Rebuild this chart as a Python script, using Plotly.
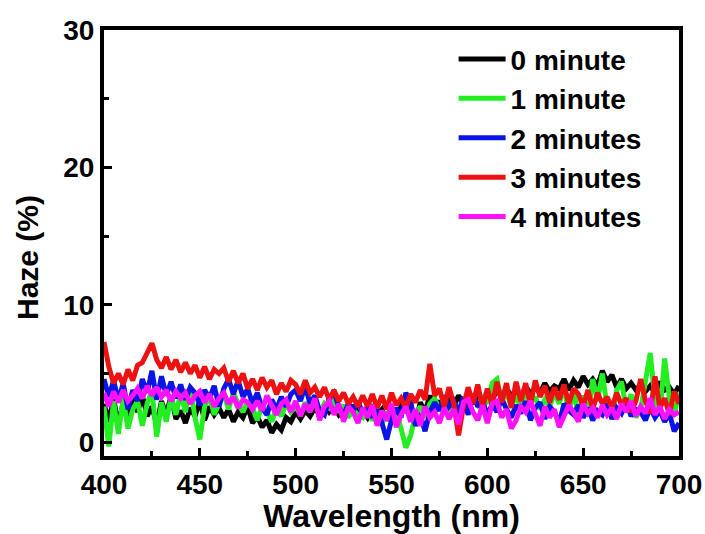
import numpy as np
import plotly.graph_objects as go

# Wavelength grid (nm), 2.5 nm step
wavelength = np.arange(400, 700.1, 2.5)

haze_0min = [2.8, 1.5, 3.2, 1.2, 2.9, 1.8, 3.6, 2.2, 3.4, 1.9, 2.6, 1.3, 3.0, 2.0, 3.4, 1.7, 2.3, 1.4, 2.5, 1.9,
             3.0, 1.6, 2.6, 2.0, 2.5, 1.8, 2.4, 1.5, 2.2, 1.8, 2.6, 1.4, 1.9, 1.1, 1.6, 0.7, 1.3, 0.9, 1.8, 1.5,
             2.2, 1.7, 2.3, 1.9, 2.5, 2.0, 2.7, 2.2, 2.6, 2.0, 2.4, 1.9, 2.7, 2.1, 2.3, 1.8, 2.5, 2.0, 2.4, 1.6,
             2.2, 1.8, 2.6, 2.3, 2.8, 1.4, 2.9, 2.2, 3.4, 2.5, 3.0, 2.1, 3.2, 2.6, 3.4, 2.8, 3.0, 2.9, 3.4, 3.0,
             3.6, 3.1, 3.8, 3.3, 3.9, 3.4, 3.7, 3.2, 4.1, 3.5, 4.0, 3.6, 4.3, 3.7, 4.1, 3.9, 4.6, 3.8, 4.5, 4.0,
             4.8, 4.2, 4.6, 4.1, 5.2, 4.4, 4.9, 4.0, 4.6, 3.9, 4.3, 3.8, 4.2, 3.7, 4.1, 3.6, 4.4, 3.8, 4.0, 3.5,
             4.1]

haze_1min = [2.6, -0.3, 3.0, 0.6, 3.2, 1.0, 2.4, 3.0, 1.2, 2.8, 3.8, 0.4, 2.9, 1.5, 3.3, 2.0, 3.6, 2.2, 4.0, 1.8,
             0.2, 2.6, 3.4, 2.0, 2.8, 3.5, 2.4, 3.6, 2.8, 2.2, 3.0, 2.5, 1.6, 2.7, 2.2, 1.5, 2.5, 1.9, 2.8, 2.2,
             2.6, 2.0, 2.9, 2.3, 3.0, 2.1, 2.8, 2.5, 3.1, 2.2, 2.7, 1.8, 2.4, 2.0, 1.8, 2.4, 1.6, 2.1, 1.4, 2.0,
             1.5, 2.2, 1.0, -0.4, 0.5, 2.0, 2.6, 1.8, 2.8, 3.2, 2.4, 3.0, 2.2, 2.8, 2.5, 3.0, 2.4, 3.2, 2.7, 3.4,
             2.8, 4.3, 4.6, 3.0, 3.6, 2.6, 3.4, 2.5, 3.8, 2.8, 3.3, 2.4, 3.1, 2.6, 3.6, 2.8, 4.0, 2.2, 3.7, 2.0,
             3.4, 1.9, 4.6, 3.0, 5.0, 2.6, 1.8, 3.8, 4.4, 2.4, 3.5, 1.8, 2.4, 4.5, 6.5, 3.0, 2.0, 6.1, 3.2, 2.0,
             3.6]

haze_2min = [4.6, 3.3, 4.5, 3.0, 4.3, 2.4, 3.8, 3.0, 4.6, 3.6, 5.2, 3.1, 4.8, 3.4, 4.4, 3.2, 4.2, 3.1, 4.0, 3.6,
             2.7, 3.8, 3.2, 4.1, 2.6, 3.9, 4.6, 3.5, 4.5, 3.3, 3.9, 2.8, 3.6, 2.5, 2.0, 3.1, 2.4, 3.3, 2.6, 3.5,
             3.8, 3.0, 4.1, 2.8, 3.4, 2.3, 2.0, 3.2, 3.6, 2.6, 2.0, 2.8, 2.3, 3.0, 2.1, 2.6, 1.8, 2.4, 1.4, 0.2,
             1.6, 2.5, 1.8, 3.6, 2.9, 1.2, 2.0, 0.8, 2.2, 2.9, 2.3, 3.4, 2.6, 3.0, 2.1, 3.3, 2.0, 3.5, 2.6, 3.1,
             1.9, 2.8, 2.2, 3.2, 2.4, 1.8, 2.7, 2.1, 3.0, 1.6, 2.5, 2.9, 1.7, 2.6, 2.2, 1.4, 2.8, 2.3, 2.0, 2.7,
             1.8, 2.5, 1.6, 2.3, 2.0, 2.8, 1.7, 2.5, 2.1, 2.9, 1.9, 2.4, 2.2, 1.6, 2.5, 1.8, 2.3, 1.5, 2.1, 0.8,
             1.4]

haze_3min = [7.3, 5.5, 4.3, 5.0, 4.2, 5.3, 4.5, 5.6, 5.8, 6.5, 7.2, 6.0, 5.4, 6.2, 5.3, 6.0, 5.1, 5.8, 5.0, 5.6,
             4.7, 5.5, 4.6, 5.3, 5.0, 5.4, 4.4, 5.2, 4.3, 5.0, 3.9, 4.6, 3.8, 4.7, 4.0, 4.5, 3.5, 4.3, 3.7, 4.5,
             4.2, 3.5, 4.5, 3.6, 4.0, 3.3, 4.0, 3.1, 3.8, 3.0, 3.6, 2.8, 3.3, 2.6, 3.4, 2.6, 3.5, 2.5, 3.4, 2.4,
             3.6, 2.7, 3.2, 2.5, 3.5, 2.9, 3.8, 3.1, 5.7, 3.4, 3.9, 2.6, 4.0, 2.8, 0.5, 2.6, 4.0, 2.8, 4.2, 2.5,
             3.9, 2.7, 4.4, 2.9, 4.3, 2.5, 4.4, 3.0, 4.3, 2.7, 4.5, 3.3, 4.1, 2.9, 4.0, 3.1, 4.2, 2.8, 3.9, 3.5,
             2.6, 3.8, 2.4, 3.6, 2.8, 3.3, 2.5, 3.6, 2.7, 3.2, 2.2, 3.0, 4.6, 3.0, 2.1, 4.8, 2.5, 3.2, 2.0, 3.7,
             2.8]

haze_4min = [3.6, 2.6, 3.7, 2.9, 3.8, 3.0, 3.4, 3.9, 3.2, 4.1, 3.4, 4.0, 3.3, 3.8, 3.0, 3.7, 3.2, 3.6, 2.8, 3.4,
             3.7, 2.9, 3.5, 2.6, 3.2, 3.6, 2.8, 3.3, 2.5, 3.1, 2.9, 2.4, 3.0, 2.3, 3.4, 2.6, 2.0, 2.8, 3.1, 2.2,
             3.0, 1.9, 2.8, 2.2, 3.2, 1.6, 2.6, 3.0, 2.0, 2.8, 1.5, 2.6, 2.2, 1.4, 2.5, 1.8, 2.7, 1.2, 2.3, 1.6,
             2.8, 1.1, 2.0, 2.6, 1.5, 2.4, 1.2, 2.6, 1.8, 2.2, 1.4, 2.5, 1.7, 2.4, 1.3, 2.9, 3.1, 2.2, 1.6, 2.7,
             1.4, 2.8, 3.0, 1.8, 2.4, 1.0, 1.6, 2.6, 2.2, 3.0, 2.0, 1.2, 2.6, 1.8, 2.4, 1.1, 1.9, 2.7, 2.2, 1.5,
             2.8, 2.1, 2.5, 1.8, 2.7, 2.0, 2.5, 1.7, 2.8, 2.2, 3.0, 1.9, 2.6, 2.1, 3.2, 2.0, 2.6, 1.7, 2.4, 2.0,
             2.2]

series_names = ["0 minute", "1 minute", "2 minutes", "3 minutes", "4 minutes"]
series_colors = ["#000000", "#22ee22", "#0a14e6", "#ee1111", "#ff11ff"]
series_values = [haze_0min, haze_1min, haze_2min, haze_3min, haze_4min]

x_ticks = [400, 450, 500, 550, 600, 650, 700]
y_ticks = [0, 10, 20, 30]

FONT = "Liberation Sans"

fig = go.Figure()
for name, color, values in zip(series_names, series_colors, series_values):
    fig.add_trace(go.Scatter(
        x=wavelength, y=values, mode="lines", name=name,
        line=dict(color=color, width=5),
    ))

axis_common = dict(
    showline=True, linewidth=4, linecolor="black", mirror=True,
    ticks="inside", ticklen=8, tickwidth=3, tickcolor="black",
    showgrid=False, zeroline=False, automargin=False,
    tickfont=dict(family=FONT, size=28, color="black", weight="bold"),
)

fig.update_xaxes(
    range=[400, 700], tickvals=x_ticks, ticktext=[str(v) for v in x_ticks],
    minor=dict(dtick=25, ticks="inside", ticklen=5, tickwidth=3, tickcolor="black"),
    title=dict(text="Wavelength (nm)", standoff=4,
               font=dict(family=FONT, size=32, color="black", weight="bold")),
    **axis_common,
)
fig.update_yaxes(
    range=[-1, 30], tickvals=y_ticks, ticktext=[str(v) for v in y_ticks],
    minor=dict(dtick=5, ticks="inside", ticklen=5, tickwidth=3, tickcolor="black"),
    **axis_common,
)

# Vertical axis title placed as a rotated annotation
fig.add_annotation(
    text="Haze (%)", textangle=-90, showarrow=False,
    xref="paper", yref="paper", x=-0.132, y=0.465,
    xanchor="center", yanchor="middle",
    font=dict(family=FONT, size=30, color="black", weight="bold"),
)

fig.update_layout(
    width=705, height=534,
    margin=dict(l=104, r=26, t=30, b=78),
    paper_bgcolor="white", plot_bgcolor="white",
    showlegend=True,
    legend=dict(
        x=0.608, y=0.99, xanchor="left", yanchor="top",
        bgcolor="rgba(0,0,0,0)", borderwidth=0,
        font=dict(family=FONT, size=28, color="black", weight="bold"),
        itemwidth=47, tracegroupgap=0,
    ),
)

fig.write_html("out.html")
